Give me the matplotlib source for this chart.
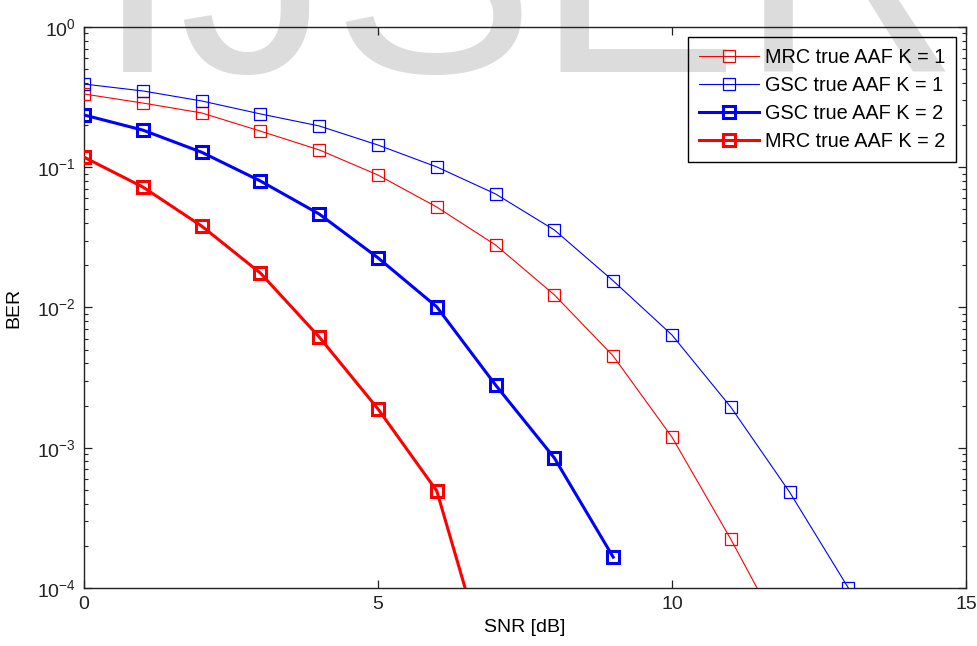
import numpy as np
import matplotlib.pyplot as plt
from matplotlib.ticker import LogLocator, NullFormatter

plt.rcParams['font.family'] = ['Liberation Sans', 'DejaVu Sans']
plt.rcParams['mathtext.fontset'] = 'custom'
plt.rcParams['mathtext.rm'] = 'Liberation Sans'
plt.rcParams['mathtext.it'] = 'Liberation Sans:italic'
plt.rcParams['axes.unicode_minus'] = False

# SNR points in dB
snr = np.arange(0, 14)

# BER values
ber_mrc_k1 = [0.333, 0.287, 0.244, 0.181, 0.133, 0.088, 0.052, 0.0279, 0.0123,
              0.00451, 0.00119, 2.23e-4, 3.7e-5]
ber_gsc_k1 = [0.392, 0.350, 0.297, 0.240, 0.197, 0.144, 0.1005, 0.0645, 0.0357,
              0.0155, 0.00637, 0.00195, 4.83e-4, 1.0e-4]
ber_gsc_k2 = [0.236, 0.184, 0.128, 0.0798, 0.0464, 0.0226, 0.0101, 0.0028,
              8.45e-4, 1.66e-4]
ber_mrc_k2 = [0.118, 0.0723, 0.0381, 0.0176, 0.00616, 0.00189, 4.92e-4, 1.8e-5]

labels = ['MRC true AAF K = 1', 'GSC true AAF K = 1',
          'GSC true AAF K = 2', 'MRC true AAF K = 2']

fig = plt.figure(figsize=(9.77, 6.46), dpi=100)
ax = fig.add_axes([0.086, 0.0898, 0.9027, 0.8684])

# watermark
ax.text(0.54, 1 - 72 / 646, 'IJSER', transform=fig.transFigure, fontsize=220,
        color='#dcdcdc', ha='center', va='baseline', zorder=0.5, clip_on=False)

ax.semilogy(snr[:len(ber_mrc_k1)], ber_mrc_k1, 's-', color='#ff0000', lw=0.8,
            ms=9, mfc='none', mew=0.9, label=labels[0], zorder=3)
ax.semilogy(snr[:len(ber_gsc_k1)], ber_gsc_k1, 's-', color='#0000ff', lw=0.8,
            ms=9, mfc='none', mew=0.9, label=labels[1], zorder=3)
ax.semilogy(snr[:len(ber_gsc_k2)], ber_gsc_k2, 's-', color='#0000ff', lw=2.2,
            ms=9, mfc='none', mew=2.2, label=labels[2], zorder=3)
ax.semilogy(snr[:len(ber_mrc_k2)], ber_mrc_k2, 's-', color='#ff0000', lw=2.2,
            ms=9, mfc='none', mew=2.2, label=labels[3], zorder=3)

ax.set_xlim(0, 15)
ax.set_ylim(1e-4, 1)
ax.set_xticks([0, 5, 10, 15])
ax.yaxis.set_major_locator(LogLocator(base=10, numticks=10))
ax.yaxis.set_minor_locator(LogLocator(base=10, subs=np.arange(2, 10), numticks=10))
ax.yaxis.set_minor_formatter(NullFormatter())
ax.tick_params(which='both', direction='in', top=True, right=True,
               labelsize=14, colors='#222222')
ax.tick_params(which='major', length=6, width=0.9, pad=6)
ax.tick_params(which='minor', length=3, width=0.8)
for s in ax.spines.values():
    s.set_linewidth(1.0)
    s.set_color('#222222')

ax.set_xlabel('SNR [dB]', fontsize=14, labelpad=4)
ax.set_ylabel('BER', fontsize=14, labelpad=10)

leg = ax.legend(loc='upper right', fontsize=14.3, fancybox=False,
                edgecolor='black', facecolor='none', framealpha=1,
                borderaxespad=0.5, handlelength=3.0, handletextpad=0.3,
                labelspacing=0.45, borderpad=0.55)
leg.get_frame().set_linewidth(1.0)

fig.savefig('out.png', dpi=100)
